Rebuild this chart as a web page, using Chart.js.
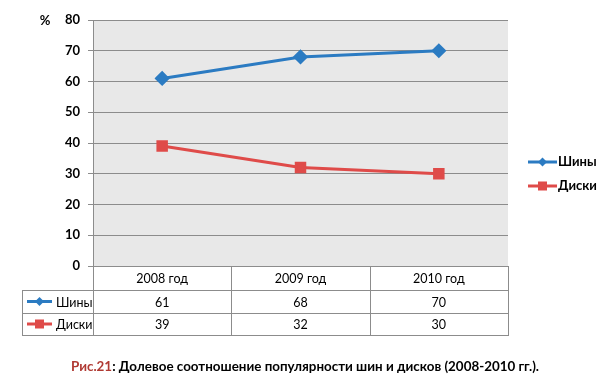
<!DOCTYPE html>
<html><head><meta charset="utf-8">
<script src="https://cdn.jsdelivr.net/npm/chart.js@4/dist/chart.umd.min.js"></script>
<style>html,body{margin:0;padding:0;background:#fff}#wrap{width:610px;height:388px}</style>
</head><body><div id="wrap"><canvas id="c" width="610" height="388"></canvas></div>
<script>
const categories = ['2008 год', '2009 год', '2010 год'];
const seriesNames = ['Шины', 'Диски'];
const tiresValues = [61, 68, 70];
const rimsValues = [39, 32, 30];
const yTicks = [0, 10, 20, 30, 40, 50, 60, 70, 80];
const captionPrefix = 'Рис.21';
const captionText = ': Долевое соотношение популярности шин и дисков (2008-2010 гг.).';

const BLUE = '#2b7bc2', RED = '#df4b49', GRID = '#8c8c8c';
const FONT = 'Lato, "Noto Sans", sans-serif';

const tablePlugin = {
  id: 'tablePlugin',
  beforeDraw(chart) {
    const {ctx, chartArea: a} = chart;
    ctx.save();
    ctx.fillStyle = '#e8e8e8';
    ctx.fillRect(a.left, a.top, a.right - a.left, a.bottom - a.top);
    ctx.restore();
  },
  afterDraw(chart) {
    const {ctx, chartArea: a} = chart;
    const n = categories.length;
    const cw = (a.right - a.left) / n;
    const rowH = [24, 23, 22];
    const y0 = a.bottom, y1 = y0 + rowH[0], y2 = y1 + rowH[1], y3 = y2 + rowH[2];
    const leftX = 22;
    ctx.save();
    ctx.strokeStyle = GRID; ctx.lineWidth = 1;
    const hl = (x1, x2, y) => { ctx.beginPath(); ctx.moveTo(x1, y + 0.5); ctx.lineTo(x2, y + 0.5); ctx.stroke(); };
    const vl = (x, ya, yb) => { ctx.beginPath(); ctx.moveTo(Math.round(x) + 0.5, ya); ctx.lineTo(Math.round(x) + 0.5, yb); ctx.stroke(); };
    hl(a.left, a.right, y0);
    hl(leftX, a.right, y1); hl(leftX, a.right, y2); hl(leftX, a.right, y3);
    vl(leftX, y1, y3 + 1);
    for (let i = 0; i <= n; i++) vl(a.left + i * cw, y0, y3 + 1);
    ctx.fillStyle = '#000';
    ctx.textAlign = 'center'; ctx.textBaseline = 'middle';
    ctx.font = '12.5px ' + FONT;
    const xs = chart.scales.x;
    categories.forEach((c, i) => {
      const cx = xs.getPixelForValue(i);
      ctx.fillText(c, cx, (y0 + y1) / 2 + 1);
      ctx.fillText(String(tiresValues[i]), cx, (y1 + y2) / 2 + 1);
      ctx.fillText(String(rimsValues[i]), cx, (y2 + y3) / 2 + 1);
    });
    const drawKey = (x1, x2, y, color, shape) => {
      ctx.strokeStyle = color; ctx.fillStyle = color; ctx.lineWidth = 3;
      ctx.beginPath(); ctx.moveTo(x1, y); ctx.lineTo(x2, y); ctx.stroke();
      const mx = (x1 + x2) / 2;
      if (shape === 'diamond') {
        ctx.beginPath(); ctx.moveTo(mx, y - 4.5); ctx.lineTo(mx + 4.5, y); ctx.lineTo(mx, y + 4.5); ctx.lineTo(mx - 4.5, y); ctx.closePath(); ctx.fill();
      } else {
        ctx.fillRect(mx - 4.5, y - 4.5, 9, 9);
      }
    };
    drawKey(27, 52, (y1 + y2) / 2, BLUE, 'diamond');
    drawKey(27, 52, (y2 + y3) / 2, RED, 'square');
    ctx.fillStyle = '#000'; ctx.textAlign = 'left';
    ctx.font = '12.5px ' + FONT;
    ctx.fillText(seriesNames[0], 56, (y1 + y2) / 2 + 1);
    ctx.fillText(seriesNames[1], 56, (y2 + y3) / 2 + 1);
    drawKey(528, 557, 162, BLUE, 'diamond');
    drawKey(528, 557, 186, RED, 'square');
    ctx.fillStyle = '#000'; ctx.font = 'bold 13px ' + FONT; ctx.textAlign = 'left';
    ctx.fillText(seriesNames[0], 558, 162);
    ctx.fillText(seriesNames[1], 558, 186);
    ctx.font = 'bold 13px ' + FONT; ctx.textAlign = 'center';
    ctx.fillText('%', 45, 21);
    ctx.font = 'bold 13.4px ' + FONT; ctx.textAlign = 'left';
    const w1 = ctx.measureText(captionPrefix).width, w2 = ctx.measureText(captionText).width;
    const startX = 305 - (w1 + w2) / 2;
    ctx.fillStyle = '#b03a33'; ctx.fillText(captionPrefix, startX, 367);
    ctx.fillStyle = '#000'; ctx.fillText(captionText, startX + w1, 367);
    ctx.restore();
  }
};

new Chart(document.getElementById('c'), {
  type: 'line',
  data: {
    labels: categories,
    datasets: [
      { label: seriesNames[0], data: tiresValues, borderColor: BLUE, backgroundColor: BLUE, borderWidth: 3,
        pointStyle: 'rectRot', pointRadius: 5.5, pointHoverRadius: 5.5, tension: 0 },
      { label: seriesNames[1], data: rimsValues, borderColor: RED, backgroundColor: RED, borderWidth: 3,
        pointStyle: 'rect', pointRadius: 6, pointHoverRadius: 6, tension: 0 }
    ]
  },
  options: {
    responsive: false, animation: false, devicePixelRatio: 1,
    layout: { padding: { left: 0, right: 102, top: 20, bottom: 122 } },
    plugins: { legend: { display: false }, tooltip: { enabled: false } },
    scales: {
      x: { type: 'category', offset: true, display: false },
      y: {
        min: 0, max: 80,
        afterBuildTicks(s) { s.ticks = yTicks.map(v => ({ value: v })); },
        afterFit(s) { s.width = 93; },
        grid: { color: GRID, tickColor: GRID, tickLength: 5, drawTicks: true },
        border: { display: true, color: GRID },
        ticks: { color: '#000', font: { family: FONT, size: 13, weight: 'bold' }, padding: 8 }
      }
    }
  },
  plugins: [tablePlugin]
});
</script></body></html>
